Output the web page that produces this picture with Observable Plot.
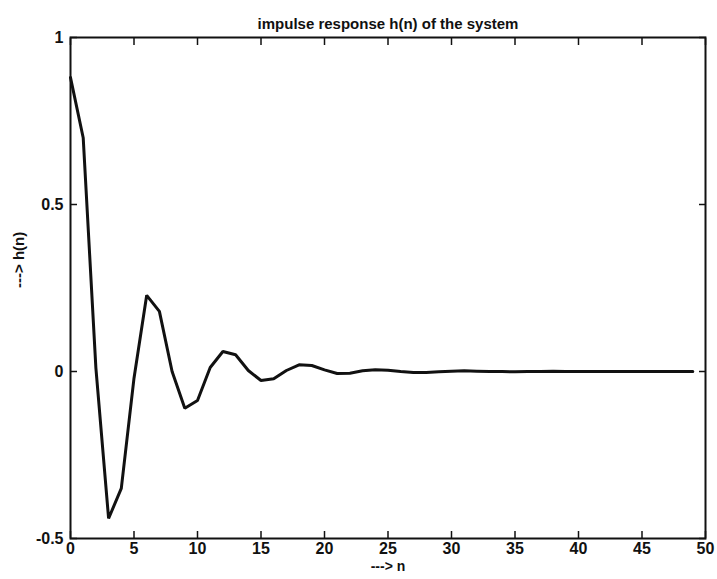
<!DOCTYPE html>
<html>
<head>
<meta charset="utf-8">
<script src="https://cdn.jsdelivr.net/npm/d3@7"></script>
<script src="https://cdn.jsdelivr.net/npm/@observablehq/plot@0.6"></script>
<style>
  html, body { margin: 0; padding: 0; background: #fff; }
  #chart svg { display: block; }
</style>
</head>
<body>
<div id="chart"></div>
<script>
const titleText = "impulse response h(n) of the system";
const xLabel = "---> n";
const yLabel = "---> h(n)";

const n = [0,1,2,3,4,5,6,7,8,9,10,11,12,13,14,15,16,17,18,19,20,21,22,23,24,25,26,27,28,29,30,31,32,33,34,35,36,37,38,39,40,41,42,43,44,45,46,47,48,49];
const h = [0.88, 0.70, 0.01, -0.44, -0.35, -0.02, 0.228, 0.18, 0.0, -0.11,
           -0.087, 0.012, 0.06, 0.05, 0.003, -0.027, -0.022, 0.003, 0.02, 0.018,
           0.005, -0.006, -0.005, 0.002, 0.005, 0.004, 0.0, -0.003, -0.003, -0.001,
           0.001, 0.002, 0.001, 0.0, 0.0, -0.001, 0.0, 0.0, 0.001, 0.0,
           0.0, 0.0, 0.0, 0.0, 0.0, 0.0, 0.0, 0.0, 0.0, 0.0];

const xTicks = [0,5,10,15,20,25,30,35,40,45,50];
const yTicks = [-0.5, 0, 0.5, 1];

const data = n.map((v, i) => ({n: v, h: h[i]}));

const font = "'Liberation Sans', Arial, Helvetica, sans-serif";
const tickLen = 7;

const chart = Plot.plot({
  width: 717,
  height: 579,
  marginLeft: 70,
  marginRight: 12,
  marginTop: 37,
  marginBottom: 41,
  style: {fontFamily: font, fontSize: "16px", fontWeight: "bold", color: "#111", background: "#fff"},
  x: {domain: [0, 50]},
  y: {domain: [-0.5, 1]},
  marks: [
    // inward ticks on all four sides
    Plot.axisX(xTicks, {anchor: "bottom", tickSize: tickLen, dy: -tickLen, fill: "none", stroke: "#111", strokeWidth: 1.5, label: null}),
    Plot.axisX(xTicks, {anchor: "top", tickSize: tickLen, dy: tickLen, fill: "none", stroke: "#111", strokeWidth: 1.5, label: null}),
    Plot.axisY(yTicks, {anchor: "left", tickSize: tickLen, dx: tickLen, fill: "none", stroke: "#111", strokeWidth: 1.5, label: null}),
    Plot.axisY(yTicks, {anchor: "right", tickSize: tickLen, dx: -tickLen, fill: "none", stroke: "#111", strokeWidth: 1.5, label: null}),
    // tick labels
    Plot.axisX(xTicks, {anchor: "bottom", tickSize: 0, tickPadding: 4, tickFormat: d => String(d), fill: "#111", label: null, fontSize: 16, fontWeight: "bold"}),
    Plot.axisY(yTicks, {anchor: "left", tickSize: 0, tickPadding: 7, tickFormat: d => String(d), fill: "#111", label: null, fontSize: 16, fontWeight: "bold"}),
    Plot.frame({stroke: "#111", strokeWidth: 2}),
    Plot.line(data, {x: "n", y: "h", stroke: "#111", strokeWidth: 3, strokeLinejoin: "miter"}),
    Plot.text([titleText], {text: d => d, frameAnchor: "top", dy: -19, fontSize: 15, fontWeight: "bold", fill: "#111"}),
    Plot.text([xLabel], {text: d => d, frameAnchor: "bottom", dy: 32, fontSize: 14, fontWeight: "bold", fill: "#111"}),
    Plot.text([yLabel], {text: d => d, frameAnchor: "left", dx: -51, rotate: -90, fontSize: 15, fontWeight: "bold", fill: "#111"})
  ]
});

document.getElementById("chart").appendChild(chart);
</script>
</body>
</html>
